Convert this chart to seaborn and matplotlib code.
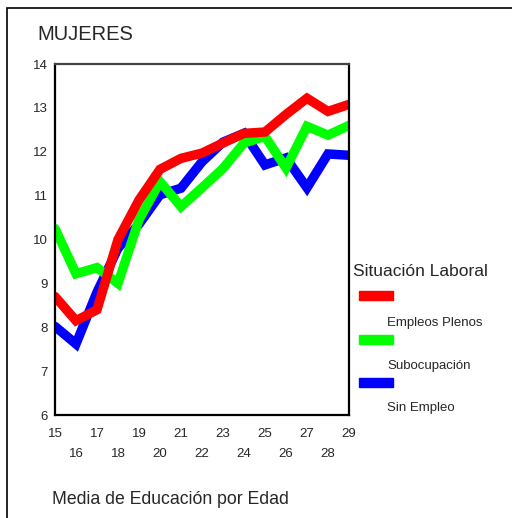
import numpy as np
import pandas as pd
import seaborn as sns
import matplotlib.pyplot as plt
from matplotlib.patches import Rectangle

# ages and mean education per labour situation
edades = list(range(15, 30))
empleos_plenos = [8.7, 8.15, 8.4, 10.0, 10.9, 11.6, 11.85, 11.97, 12.2, 12.42, 12.45, 12.85, 13.22, 12.92, 13.08]
subocupacion = [10.25, 9.22, 9.36, 9.0, 10.45, 11.32, 10.75, 11.18, 11.62, 12.2, 12.35, 11.63, 12.58, 12.38, 12.6]
sin_empleo = [8.02, 7.62, 8.8, 9.8, 10.35, 11.02, 11.17, 11.77, 12.22, 12.42, 11.7, 11.86, 11.18, 11.95, 11.92]

grupos = ['Sin Empleo', 'Subocupación', 'Empleos Plenos']
colores = {'Empleos Plenos': '#ff0000', 'Subocupación': '#00ff00', 'Sin Empleo': '#0000ff'}

df = pd.concat([
    pd.DataFrame({'edad': edades, 'educ': sin_empleo, 'situacion': 'Sin Empleo'}),
    pd.DataFrame({'edad': edades, 'educ': subocupacion, 'situacion': 'Subocupación'}),
    pd.DataFrame({'edad': edades, 'educ': empleos_plenos, 'situacion': 'Empleos Plenos'}),
])

sns.set_style('white')
plt.rcParams['font.family'] = ['Liberation Sans', 'DejaVu Sans']

fig = plt.figure(figsize=(5.12, 5.18), dpi=100)
ax = fig.add_axes([0.1074, 0.1988, 0.5742, 0.6776])

sns.lineplot(data=df, x='edad', y='educ', hue='situacion', hue_order=grupos,
             palette=colores, linewidth=6.8, legend=False, ax=ax,
             solid_joinstyle='miter')

ax.set_xlim(15, 29)
ax.set_ylim(6, 14)
ax.set_xticks(edades)
ax.set_xticklabels([str(e) if e % 2 == 1 else '\n' + str(e) for e in edades], fontsize=9.5)
for lbl in ax.get_xticklabels():
    lbl.set_linespacing(1.9)
ax.set_yticks(range(6, 15))
ax.set_yticklabels([str(v) for v in range(6, 15)], fontsize=9.5)
ax.tick_params(axis='both', direction='out', length=2, width=2, color='black', pad=3)
ax.tick_params(axis='x', pad=7)
ax.set_xlabel('')
ax.set_ylabel('')
for lado in ['left', 'bottom', 'right']:
    ax.spines[lado].set_color('black')
    ax.spines[lado].set_linewidth(1.6)
ax.spines['top'].set_color('#444444')
ax.spines['top'].set_linewidth(1.6)

# outer frame (cut by the picture edges)
fig.patches.append(Rectangle((7 / 512, -0.05), 1.1, 1.05 - 8 / 518, transform=fig.transFigure,
                             fill=False, edgecolor='black', linewidth=1.2, clip_on=False))

fig.text(37 / 512, 1 - 35 / 518, 'MUJERES', fontsize=14.5, va='center', ha='left')
fig.text(52 / 512, 1 - 500 / 518, 'Media de Educación por Edad', fontsize=12.7, va='center', ha='left')

# legend drawn by hand, labels sit under the swatches as in the original
fig.text(353 / 512, 1 - 272 / 518, 'Situación Laboral', fontsize=12.5, va='center', ha='left')
swatch_y = [291, 335, 378]
for g, yy in zip(['Empleos Plenos', 'Subocupación', 'Sin Empleo'], swatch_y):
    fig.patches.append(Rectangle((359 / 512, 1 - (yy + 9) / 518), 34 / 512, 9 / 518,
                                 transform=fig.transFigure, color=colores[g]))
for g, yy in zip(['Empleos Plenos', 'Subocupación', 'Sin Empleo'], [323, 366, 408]):
    fig.text(387 / 512, 1 - yy / 518, g, fontsize=9.5, va='center', ha='left')

fig.savefig('out.png', dpi=100)
